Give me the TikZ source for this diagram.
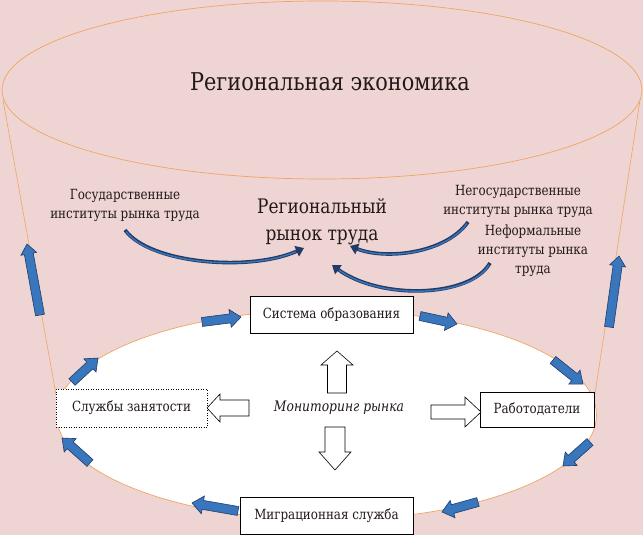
\documentclass[tikz,border=0pt]{standalone}
\usepackage{fontspec}
\setmainfont{DejaVu Serif}[FakeStretch=0.85]
\usetikzlibrary{arrows.meta,calc}
\definecolor{bgpink}{RGB}{239,212,212}
\definecolor{orline}{RGB}{240,165,95}
\definecolor{bfill}{RGB}{58,118,188}
\definecolor{bdraw}{RGB}{30,60,110}
\definecolor{cnavy}{RGB}{34,58,100}
\definecolor{txt}{RGB}{35,25,25}
% #1 style, (#2,#3) tail, (#4,#5) tip, #6 half shaft, #7 half head, #8 head length
\newcommand\blockarrow[8]{%
  \pgfmathsetmacro\baang{atan2(-(#5-#3),#4-#2)}%
  \pgfmathsetmacro\balen{veclen(#4-#2,#5-#3)}%
  \begin{scope}[shift={(#2,#3)},rotate=\baang]
    \draw[#1] (0,#6) -- ({\balen-#8},#6) -- ({\balen-#8},#7) -- (\balen,0)
      -- ({\balen-#8},-#7) -- ({\balen-#8},-#6) -- (0,-#6) -- cycle;
  \end{scope}}
\tikzset{
  outline/.style={draw=orline,line width=0.7pt},
  boxnode/.style={draw=black,fill=white,line width=0.5pt,text=txt,font=\fontsize{14}{17}\selectfont,inner sep=0pt},
  lbl/.style={text=txt,align=center,font=\fontsize{14}{19}\selectfont,inner sep=0pt},
  bluearr/.style={fill=bfill,draw=bdraw,line width=0.6pt},
  hollowarr/.style={fill=white,draw=black,line width=0.6pt},
  curvearr/.style={draw=cnavy,line width=3.6pt,-{Triangle[length=8pt,width=11pt]}},
  curvein/.style={draw=bfill,line width=1.4pt,shorten >=9pt,shorten <=2pt}
}
\begin{document}
\begin{tikzpicture}[x=1pt,y=-1pt]
\useasboundingbox (0,0) rectangle (643,535);
\fill[bgpink] (0,0) rectangle (643,535);
% side lines of the funnel
\coordinate (tl) at (3,100);
\coordinate (bl) at (57,400);
\coordinate (tr) at (640,100);
\coordinate (br) at (594,400);
\draw[draw=orline,line width=0.6pt] (tl) -- (bl);
\draw[draw=orline,line width=0.6pt] (tr) -- (br);
% ellipses
\draw[outline,fill=bgpink] (322,90) ellipse [x radius=320pt, y radius=89pt];
\draw[outline,fill=white] (326.5,415) ellipse [x radius=270pt, y radius=105pt];
% texts
\node[text=txt,font=\fontsize{24.5}{30}\selectfont,inner sep=0pt] (title) at (330,82) {Региональная экономика};
\node[lbl] (state) at (125,205) {Государственные\\институты рынка труда};
\node[lbl,font=\fontsize{20}{27}\selectfont] (market) at (322,222) {Региональный\\рынок труда};
\node[lbl] (nonstate) at (518,201) {Негосударственные\\институты рынка труда};
\node[lbl] (informal) at (533,251) {Неформальные\\институты рынка\\труда};
% curved arrows
\coordinate (c1s) at (125,230);
\coordinate (c1e) at (304,248);
\coordinate (c2s) at (468,222);
\coordinate (c2e) at (350,246);
\coordinate (c3s) at (490,263);
\coordinate (c3e) at (332,265);
\draw[curvearr] (c1s) .. controls (150,264) and (250,272) .. (c1e);
\draw[curvein] (c1s) .. controls (150,264) and (250,272) .. (c1e);
\draw[curvearr] (c2s) .. controls (445,254) and (385,260) .. (c2e);
\draw[curvein] (c2s) .. controls (445,254) and (385,260) .. (c2e);
\draw[curvearr] (c3s) .. controls (470,298) and (380,300) .. (c3e);
\draw[curvein] (c3s) .. controls (470,298) and (380,300) .. (c3e);
% boxes
\node[boxnode,minimum width=163pt,minimum height=37pt] (edu) at (331.5,314.5) {Система образования};
\node[boxnode,dotted,minimum width=151pt,minimum height=38pt] (empl) at (131.5,408) {Службы занятости};
\node[boxnode,minimum width=114pt,minimum height=35pt] (employers) at (537,409.5) {Работодатели};
\node[boxnode,minimum width=173pt,minimum height=37pt] (migr) at (326.5,515.5) {Миграционная служба};
\node[text=txt,font=\fontsize{14.5}{17}\selectfont\itshape,inner sep=0pt] (monitor) at (339,408) {Мониторинг рынка};
% hollow arrows
\blockarrow{hollowarr}{337}{393}{337}{351}{9.5}{16}{14}
\blockarrow{hollowarr}{335}{427}{335}{470}{10}{16}{18}
\blockarrow{hollowarr}{249}{408}{207}{408}{8}{14}{13}
\blockarrow{hollowarr}{431}{412}{481}{412}{7}{15}{16}
% blue cycle arrows
\blockarrow{bluearr}{202}{322}{241}{317}{4.5}{9}{11}
\blockarrow{bluearr}{420}{316}{457}{324}{4.5}{9}{11}
\blockarrow{bluearr}{553}{360}{583}{384}{4.5}{9}{11}
\blockarrow{bluearr}{590}{442}{563}{466}{4.5}{9}{11}
\blockarrow{bluearr}{478}{502}{442}{512}{4.5}{9}{11}
\blockarrow{bluearr}{238}{511}{192}{503}{4.5}{9}{11}
\blockarrow{bluearr}{90}{463}{62}{438}{4.5}{9}{11}
\blockarrow{bluearr}{72}{382}{98}{358}{4.5}{9}{11}
\blockarrow{bluearr}{40}{315}{27}{244}{4.5}{8}{10}
\blockarrow{bluearr}{609}{327}{619}{256}{4.5}{8}{10}
\end{tikzpicture}
\end{document}
